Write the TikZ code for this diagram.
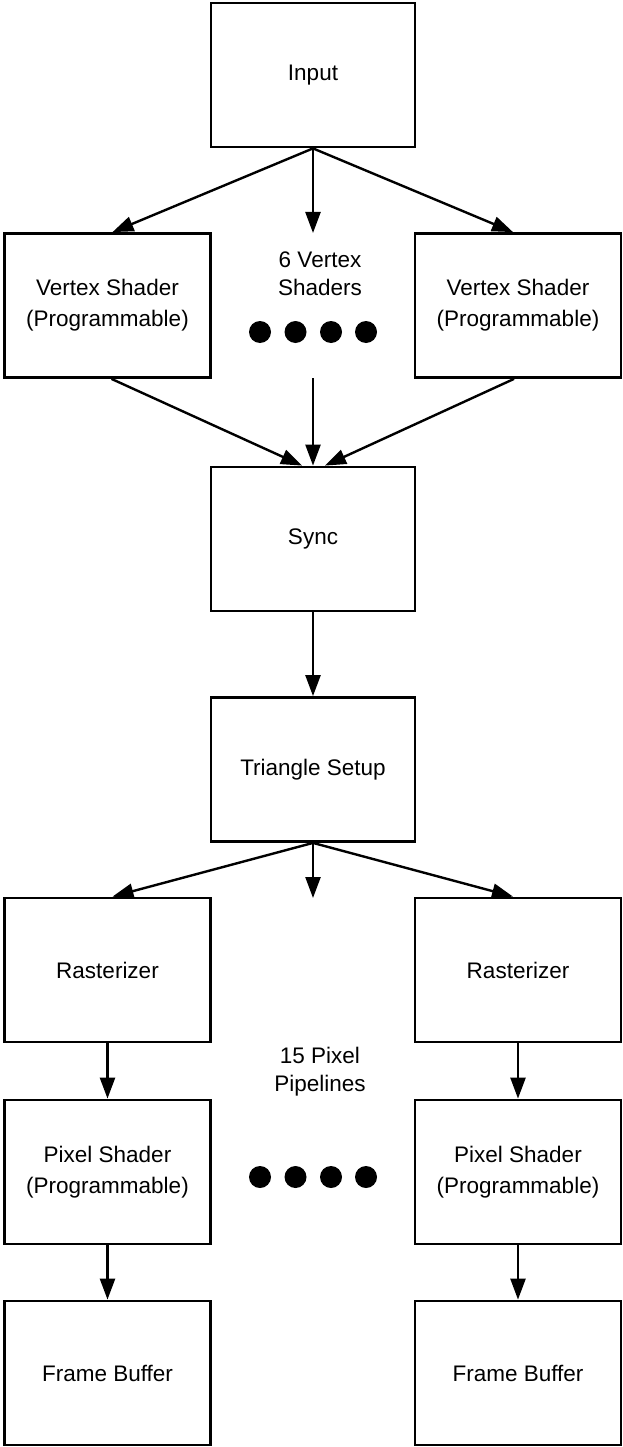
\documentclass[tikz,border=0pt]{standalone}
\usepackage{fontspec}
\setmainfont{Liberation Sans}
\usetikzlibrary{arrows.meta}
\begin{document}
\begin{tikzpicture}[x=1pt,y=1pt,
  box/.style={draw, line width=2.8pt, minimum width=204pt, minimum height=144pt, inner sep=0pt, align=center, font=\fontsize{22.5}{31}\selectfont},
  sbox/.style={box, minimum width=206pt},
  lbl/.style={inner sep=0pt, align=center, font=\fontsize{22.5}{28}\selectfont},
  arr/.style={line width=2.4pt, -{Triangle[length=21pt,width=15pt]}},
  bigdot/.style={circle, fill=black, minimum size=22pt, inner sep=0pt}
]
\useasboundingbox (0,0) rectangle (622,-1447);

% top
\node[box] (input) at (313,-75) {Input};
\node[sbox] (vsl) at (107.5,-305.5) {Vertex Shader\\(Programmable)};
\node[sbox] (vsr) at (518,-305.5) {Vertex Shader\\(Programmable)};
\node[lbl] (vlab) at (320,-274) {6 Vertex\\Shaders};
\node[bigdot] (vd1) at (260,-332) {};
\node[bigdot] (vd2) at (295.5,-332) {};
\node[bigdot] (vd3) at (331,-332) {};
\node[bigdot] (vd4) at (366,-332) {};
\coordinate (vc) at (313,-233);
\coordinate (vc2) at (313,-378);

\node[box] (sync) at (313,-539) {Sync};
\node[box] (tri) at (313,-769.5) {Triangle Setup};
\coordinate (tc) at (313,-898);

\node[sbox] (rl) at (107.5,-970) {Rasterizer};
\node[sbox] (rr) at (518,-970) {Rasterizer};
\node[lbl] (plab) at (320,-1071.5) {15 Pixel\\Pipelines};
\node[sbox] (psl) at (107.5,-1172) {Pixel Shader\\(Programmable)};
\node[sbox] (psr) at (518,-1172) {Pixel Shader\\(Programmable)};
\node[bigdot] (pd1) at (260,-1177) {};
\node[bigdot] (pd2) at (295.5,-1177) {};
\node[bigdot] (pd3) at (331,-1177) {};
\node[bigdot] (pd4) at (366,-1177) {};
\node[sbox] (fbl) at (107.5,-1373) {Frame Buffer};
\node[sbox] (fbr) at (518,-1373) {Frame Buffer};

% connectors
\draw[arr] (input.south) -- ([xshift=5pt]vsl.north);
\draw[arr] (input.south) -- (vc);
\draw[arr] (input.south) -- ([xshift=-5pt]vsr.north);
\draw[arr] ([xshift=4pt]vsl.south) -- ([xshift=-11pt]sync.north);
\draw[arr] (vc2) -- (sync.north);
\draw[arr] ([xshift=-4pt]vsr.south) -- ([xshift=12pt]sync.north);
\draw[arr] (sync) -- (tri);
\draw[arr] (tri.south) -- ([xshift=5pt]rl.north);
\draw[arr] (tri.south) -- (tc);
\draw[arr] (tri.south) -- ([xshift=-5pt]rr.north);
\draw[arr] (rl) -- (psl);
\draw[arr] (rr) -- (psr);
\draw[arr] (psl) -- (fbl);
\draw[arr] (psr) -- (fbr);
\end{tikzpicture}
\end{document}
